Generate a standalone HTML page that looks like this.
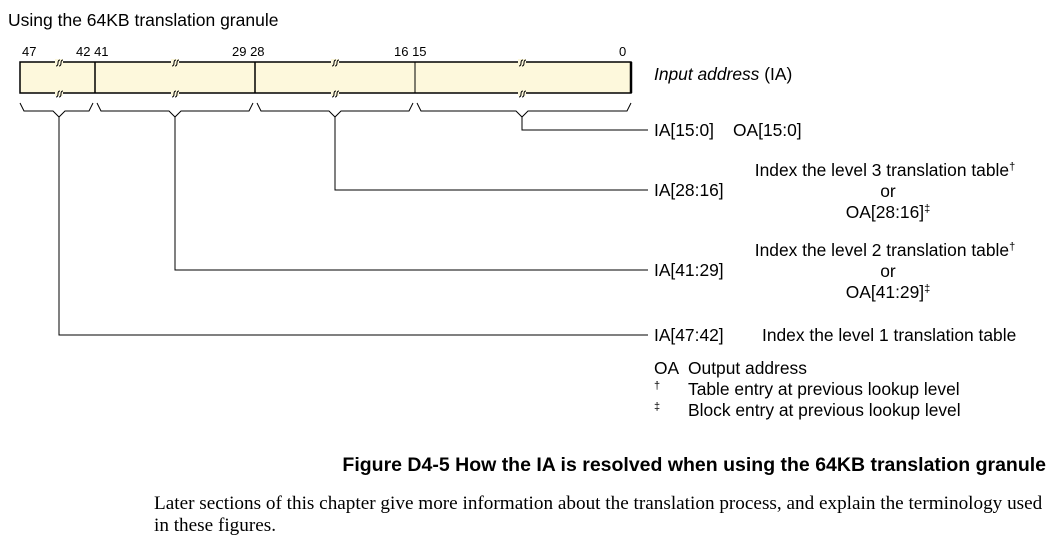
<!DOCTYPE html>
<html><head><style>
body{margin:0;background:#fff;width:1056px;height:542px;overflow:hidden;position:relative;font-family:"Liberation Sans",Arial,sans-serif;}
</style></head><body>
<svg width="1056" height="542" style="position:absolute;left:0;top:0" font-family="Liberation Sans, Arial, sans-serif">
<text x="8" y="26" font-size="17.5">Using the 64KB translation granule</text>
<g font-size="13">
<text x="22" y="56">47</text>
<text x="76" y="56">42 41</text>
<text x="232" y="56">29 28</text>
<text x="394" y="56">16 15</text>
<text x="619" y="56">0</text>
</g>
<rect x="20" y="62" width="611" height="31" fill="#fdf8dc" stroke="#000" stroke-width="1.5"/>
<line x1="631" y1="62" x2="631" y2="93" stroke="#000" stroke-width="2.5"/>
<g stroke="#000" stroke-width="1.5">
<line x1="95" y1="62" x2="95" y2="93"/>
<line x1="255" y1="62" x2="255" y2="93"/>
<line x1="415" y1="62" x2="415" y2="93" stroke-width="1"/>
</g>
<g fill="none" stroke="#000" stroke-width="1">
<g id="sq">
<rect x="55" y="59" width="8" height="6" fill="#fdf8dc" stroke="none"/>
<path d="M56,66 q2,0 2,-3 q0,-3 2,-3 M59,66 q2,0 2,-3 q0,-3 2,-3"/>
<rect x="55" y="90" width="8" height="6" fill="#fdf8dc" stroke="none"/>
<path d="M56,97 q2,0 2,-3 q0,-3 2,-3 M59,97 q2,0 2,-3 q0,-3 2,-3"/>
</g>
<use href="#sq" x="116"/>
<use href="#sq" x="276"/>
<use href="#sq" x="463"/>
<path d="M20,103 L24,111 L53,111 L59,117 L65,111 L89,111 L93,103"/>
<path d="M97,103 L101,111 L169,111 L175,117 L181,111 L249,111 L253,103"/>
<path d="M257,103 L261,111 L329,111 L335,117 L341,111 L409,111 L413,103"/>
<path d="M417,103 L421,111 L516,111 L522,117 L528,111 L627,111 L631,103"/>
<path d="M522,117 L522,130 L648,130"/>
<path d="M335,117 L335,190 L648,190"/>
<path d="M175,117 L175,270 L648,270"/>
<path d="M59,117 L59,335 L648,335"/>
</g>
<g font-size="17.4">
<text x="654" y="80"><tspan font-style="italic">Input address</tspan> (IA)</text>
<text x="654" y="136">IA[15:0]</text>
<text x="733" y="136">OA[15:0]</text>
<text x="654" y="196">IA[28:16]</text>
<text x="654" y="276">IA[41:29]</text>
<text x="654" y="341">IA[47:42]</text>
<g text-anchor="middle">
<text x="885" y="176">Index the level 3 translation table<tspan font-size="11" dy="-6">†</tspan></text>
<text x="888" y="197">or</text>
<text x="888" y="218">OA[28:16]<tspan font-size="11" dy="-6">‡</tspan></text>
<text x="885" y="256">Index the level 2 translation table<tspan font-size="11" dy="-6">†</tspan></text>
<text x="888" y="277">or</text>
<text x="888" y="298">OA[41:29]<tspan font-size="11" dy="-6">‡</tspan></text>
</g>
<text x="762" y="341">Index the level 1 translation table</text>
<text x="654" y="374">OA</text>
<text x="688" y="374">Output address</text>
<text x="654" y="389" font-size="11">†</text>
<text x="688" y="395">Table entry at previous lookup level</text>
<text x="654" y="410" font-size="11">‡</text>
<text x="688" y="416">Block entry at previous lookup level</text>
</g>
<text x="1046" y="471" text-anchor="end" font-weight="bold" font-size="19.5">Figure D4-5 How the IA is resolved when using the 64KB translation granule</text>
<g font-family="Liberation Serif, serif" font-size="19.2">
<text x="154" y="509">Later sections of this chapter give more information about the translation process, and explain the terminology used</text>
<text x="154" y="531">in these figures.</text>
</g>
</svg>
</body></html>
